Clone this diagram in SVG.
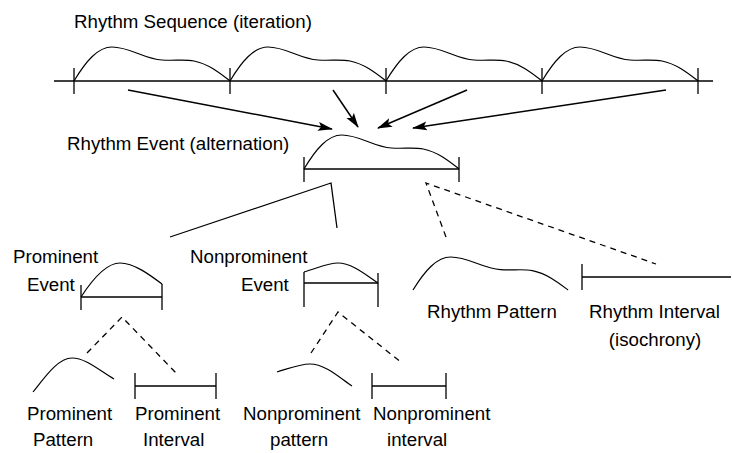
<svg xmlns="http://www.w3.org/2000/svg" xmlns:xlink="http://www.w3.org/1999/xlink" width="732" height="453" viewBox="0 0 732 453">
<style>
text{font-family:"Liberation Sans",Arial,Helvetica,sans-serif;font-size:18.7px;fill:#000}
.ln{stroke:#000;stroke-width:1.3;fill:none}
.cv{stroke:#000;stroke-width:1.2;fill:none}
.dash{stroke:#000;stroke-width:1.3;fill:none;stroke-dasharray:6,5}
.arr{stroke:#000;stroke-width:1.5;fill:none;marker-end:url(#ah)}
</style>
<defs>
<path id="hump" d="M0,0 C12,-20 24,-34 38,-34 C56,-34 70,-22 88,-21 C100,-20 110,-22 120,-20 C135,-17 147,-7 156,0"/>
<marker id="ah" viewBox="0 0 15 10" refX="14" refY="5" markerWidth="15" markerHeight="10" markerUnits="userSpaceOnUse" orient="auto">
<path d="M0,0.5 L15,5 L0,9.5 L3,5 Z" fill="#000"/>
</marker>
</defs>

<g id="sequence">
<text x="74" y="28">Rhythm Sequence (iteration)</text>
<line class="ln" x1="54" y1="81" x2="713" y2="81"/>
<line class="ln" x1="74" y1="68" x2="74" y2="94"/>
<line class="ln" x1="230" y1="68" x2="230" y2="94"/>
<line class="ln" x1="386" y1="68" x2="386" y2="94"/>
<line class="ln" x1="542" y1="68" x2="542" y2="94"/>
<line class="ln" x1="698" y1="68" x2="698" y2="94"/>
<use xlink:href="#hump" href="#hump" class="cv" transform="translate(74,81)"/>
<use xlink:href="#hump" href="#hump" class="cv" transform="translate(230,81)"/>
<use xlink:href="#hump" href="#hump" class="cv" transform="translate(386,81)"/>
<use xlink:href="#hump" href="#hump" class="cv" transform="translate(542,81)"/>
</g>

<g id="event">
<text x="67" y="150">Rhythm Event (alternation)</text>
<line class="ln" x1="304" y1="169" x2="459" y2="169"/>
<line class="ln" x1="304" y1="157" x2="304" y2="182"/>
<line class="ln" x1="459" y1="157" x2="459" y2="182"/>
<use xlink:href="#hump" href="#hump" class="cv" transform="translate(304,169) scale(0.994,1)"/>
</g>

<g id="prominent-event">
<text x="13" y="263">Prominent</text>
<text x="27" y="291">Event</text>
<line class="ln" x1="81" y1="297" x2="162" y2="297"/>
<line class="ln" x1="81" y1="285" x2="81" y2="310"/>
<line class="ln" x1="162" y1="284" x2="162" y2="310"/>
<path class="cv" d="M81,297 C92,280 106,263 120,263 C134,263 150,275 162,284"/>
</g>

<g id="nonprominent-event">
<text x="190" y="263">Nonprominent</text>
<text x="241" y="291">Event</text>
<line class="ln" x1="304" y1="283" x2="378" y2="283"/>
<line class="ln" x1="304" y1="272" x2="304" y2="307"/>
<line class="ln" x1="378" y1="273" x2="378" y2="307"/>
<path class="cv" d="M304,272 C318,268 328,263 338,263 C352,263 366,275 378,283"/>
</g>

<g id="rhythm-pattern">
<use xlink:href="#hump" href="#hump" class="cv" transform="translate(413,290) scale(0.994,0.97)"/>
<text x="427" y="318">Rhythm Pattern</text>
</g>

<g id="rhythm-interval">
<line class="ln" x1="582" y1="264" x2="582" y2="290"/>
<line class="ln" x1="582" y1="277" x2="731" y2="277"/>
<text x="589" y="318">Rhythm Interval</text>
<text x="655" y="346" text-anchor="middle">(isochrony)</text>
</g>

<g id="prominent-pattern">
<path class="cv" d="M33,392 C45,377 58,358 72,358 C86,358 100,371 114,379"/>
<text x="27" y="420">Prominent</text>
<text x="33" y="446">Pattern</text>
</g>

<g id="prominent-interval">
<line class="ln" x1="135" y1="386" x2="216" y2="386"/>
<line class="ln" x1="135" y1="373" x2="135" y2="399"/>
<line class="ln" x1="216" y1="373" x2="216" y2="399"/>
<text x="135" y="420">Prominent</text>
<text x="143" y="446">Interval</text>
</g>

<g id="nonprominent-pattern">
<path class="cv" d="M277,372 C290,368 300,364 310,364 C325,364 340,378 352,386"/>
<text x="243" y="420">Nonprominent</text>
<text x="270" y="446">pattern</text>
</g>

<g id="nonprominent-interval">
<line class="ln" x1="372" y1="386" x2="446" y2="386"/>
<line class="ln" x1="372" y1="373" x2="372" y2="399"/>
<line class="ln" x1="446" y1="373" x2="446" y2="399"/>
<text x="373" y="420">Nonprominent</text>
<text x="387" y="446">interval</text>
</g>

<g id="connectors">
<line class="arr" x1="128" y1="90" x2="332" y2="129"/>
<line class="arr" x1="333" y1="90" x2="358" y2="127"/>
<line class="arr" x1="467" y1="90" x2="378" y2="128"/>
<line class="arr" x1="666" y1="90" x2="413" y2="128"/>
<polyline class="ln" points="170,237 331,183 337,228"/>
<polyline class="dash" points="446,237 426,183 656,264"/>
<polyline class="dash" points="87,353 122,317 176,373"/>
<polyline class="dash" points="311,353 338,312 402,363"/>
</g>
</svg>
